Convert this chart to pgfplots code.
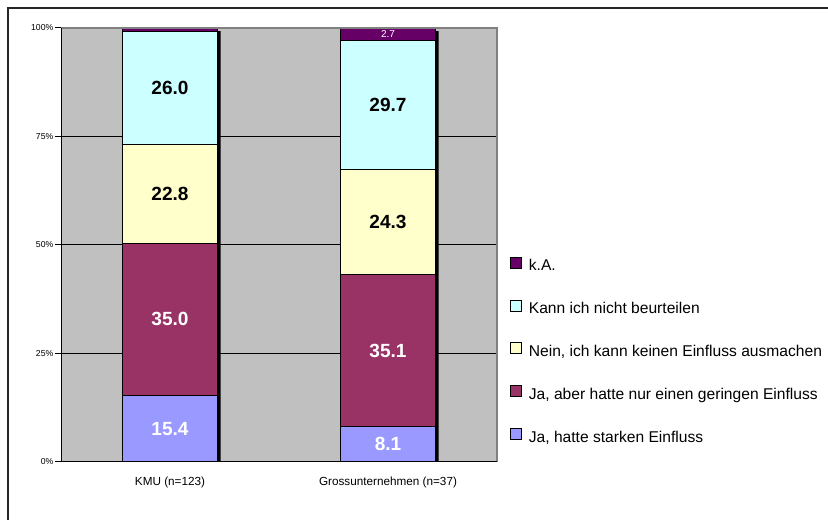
\documentclass[border=0pt]{standalone}
\usepackage{pgfplots}
\pgfplotsset{compat=1.18}
\usepackage{fontspec}
\setmainfont{Liberation Sans}
\definecolor{cKA}{HTML}{660066}
\definecolor{cCyan}{HTML}{CCFFFF}
\definecolor{cYel}{HTML}{FFFFCC}
\definecolor{cMar}{HTML}{993366}
\definecolor{cBlue}{HTML}{9999FF}
\definecolor{cGray}{HTML}{C0C0C0}
\definecolor{cBorder}{HTML}{808080}
\begin{document}
\begin{tikzpicture}
\path[use as bounding box] (0pt,0pt) rectangle (621pt,390pt);
\fill[white] (0pt,0pt) rectangle (621pt,390pt);
\begin{scope}
\clip (0pt,0pt) rectangle (621pt,390pt);
\draw[black!85, line width=1.5pt] (6pt,-8pt) -- (6pt,384pt) -- (630pt,384pt);
\end{scope}
\pgfplotsset{common/.style={
  scale only axis, width=327pt, height=325.5pt,
  at={(45.75pt,43.5pt)}, anchor=south west,
  xmin=-0.5, xmax=1.5, ymin=0, ymax=100,
}}
\begin{axis}[common,
  axis background/.style={fill=cGray},
  axis line style={draw=none},
  ybar, bar width=71.25pt,
  xtick={0,1}, xticklabels={KMU (n=123), Grossunternehmen (n=37)},
  x tick label style={font=\fontsize{8.8}{10}\selectfont, anchor=base, yshift=-13.5pt},
  xtick style={draw=none},
  ytick={0,25,50,75,100}, yticklabels={0\%,25\%,50\%,75\%,100\%},
  y tick label style={font=\fontsize{6.5}{7}\selectfont, xshift=2.25pt},
  ytick align=outside, major tick length=4.5pt, ytick pos=left,
  ytick style={black, line width=0.75pt},
  ymajorgrids, grid style={black, line width=0.75pt},
  /pgf/number format/assume math mode=true,
]
\addplot[fill=black, draw=none, bar shift=2.25pt] coordinates {(0,99.3) (1,99.3)};
\end{axis}
\begin{axis}[common, hide axis,
  ybar stacked, bar width=71.25pt,
  point meta=explicit symbolic,
  nodes near coords,
  every node near coord/.append style={anchor=center},
  reverse legend,
  legend style={draw=none, fill=none, at={(1.0298,0.473)}, anchor=north west,
    inner sep=0pt, outer sep=0pt, row sep=19.1pt,
    font=\fontsize{11.7}{14}\selectfont,
    nodes={inner sep=0pt, text height=8.5pt, text depth=2.5pt}},
  legend cell align=left,
  legend image code/.code={\draw[#1, draw=black, line width=0.6pt] (0pt,-1pt) rectangle (8.25pt,7.25pt); \path (13.5pt,0pt);},
  after end axis/.code={
    \draw[cBorder, line width=1pt] (rel axis cs:0,1) -- (rel axis cs:1,1) -- (rel axis cs:1,0);
    \draw[black, line width=0.75pt] (rel axis cs:0,1) -- (rel axis cs:0,0) -- (rel axis cs:1,0);
  },
]
\addplot[fill=cBlue, draw=black, line width=0.75pt,
  every node near coord/.append style={text=white, font=\fontsize{14.3}{16}\selectfont\bfseries}]
  coordinates {(0,15.4) [15.4] (1,8.1) [8.1]};
\addlegendentry{Ja, hatte starken Einfluss}
\addplot[fill=cMar, draw=black, line width=0.75pt,
  every node near coord/.append style={text=white, font=\fontsize{14.3}{16}\selectfont\bfseries}]
  coordinates {(0,35.0) [35.0] (1,35.1) [35.1]};
\addlegendentry{Ja, aber hatte nur einen geringen Einfluss}
\addplot[fill=cYel, draw=black, line width=0.75pt,
  every node near coord/.append style={text=black, font=\fontsize{14.3}{16}\selectfont\bfseries}]
  coordinates {(0,22.8) [22.8] (1,24.3) [24.3]};
\addlegendentry{Nein, ich kann keinen Einfluss ausmachen}
\addplot[fill=cCyan, draw=black, line width=0.75pt,
  every node near coord/.append style={text=black, font=\fontsize{14.3}{16}\selectfont\bfseries}]
  coordinates {(0,26.0) [26.0] (1,29.7) [29.7]};
\addlegendentry{Kann ich nicht beurteilen}
\addplot[fill=cKA, draw=black, line width=0.75pt,
  every node near coord/.append style={text=white, font=\fontsize{7.5}{8}\selectfont}]
  coordinates {(0,0.8) [\relax] (1,2.7) [2.7]};
\addlegendentry{k.A.}
\end{axis}
\end{tikzpicture}
\end{document}
